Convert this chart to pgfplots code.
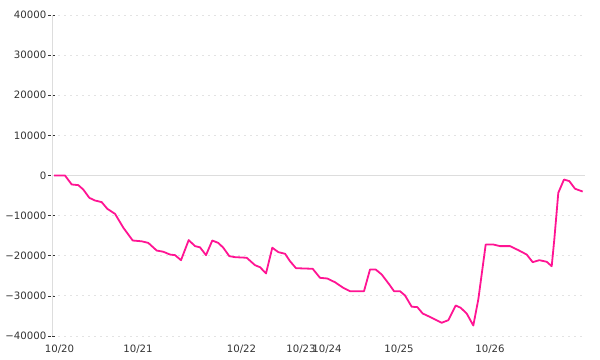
\documentclass[border=0pt]{standalone}
\usepackage{fontspec}
\setmainfont{DejaVu Sans}
\usepackage{pgfplots}
\pgfplotsset{compat=1.18}
\definecolor{linepink}{HTML}{FF1493}
\definecolor{gridc}{HTML}{E3E3E3}
\definecolor{axc}{HTML}{DDDDDD}
\definecolor{txt}{HTML}{333333}
\begin{document}
\begin{tikzpicture}
\useasboundingbox (-52bp,-24bp) rectangle (548bp,336bp);
\begin{axis}[
  scale only axis,
  width=533bp, height=321bp,
  xmin=52, xmax=585,
  ymin=-40000, ymax=40000,
  scaled y ticks=false,
  axis x line*=bottom,
  axis y line*=left,
  x axis line style={draw=none},
  y axis line style={draw=axc, line width=0.8bp, -},
  xtick={59.5,138,241.5,301,327,399,490},
  xticklabels={10/20,10/21,10/22,10/23,10/24,10/25,10/26},
  x tick style={draw=none},
  ytick={-40000,-30000,-20000,-10000,0,10000,20000,30000,40000},
  yticklabels={−40000,−30000,−20000,−10000,0,10000,20000,30000,40000},
  y tick style={draw=txt, line width=0.7bp, dash pattern=on 3bp off 1bp},
  tick align=center,
  major tick length=7bp,
  ymajorgrids,
  major grid style={draw=gridc, line width=0.8bp, dash pattern=on 2bp off 4bp},
  ticklabel style={font=\fontsize{10.2}{11}\selectfont, text=txt},
  yticklabel style={inner sep=0pt, xshift=-2bp},
  xticklabel style={inner sep=0pt, yshift=-5bp},
  clip=false,
]
\addplot[draw=axc, line width=0.8bp, forget plot] coordinates {(52,0) (585,0)};
\addplot[draw=linepink, line width=1.8bp, line join=round] coordinates {
(54,0) (65,0) (71.7,-2240) (78.3,-2400) (83.3,-3500) (89.3,-5560) (95,-6230)
(101.7,-6640) (107.3,-8300) (115,-9550) (123.3,-13000) (132.7,-16200)
(141.7,-16400) (148.3,-16800) (156.7,-18700) (163.3,-19000) (170,-19700)
(175,-19850) (181,-21100) (188.7,-16100) (195,-17600) (200,-17900)
(206,-19850) (212.3,-16200) (218.3,-16800) (223.3,-18000) (229.3,-20100)
(235,-20350) (246.7,-20500) (255,-22350) (260,-22850) (266,-24400)
(272.3,-18000) (278.3,-19100) (285,-19500) (290,-21350) (296,-23100)
(312.7,-23250) (320,-25500) (327.3,-25670) (335,-26600) (343.3,-28000)
(350,-28830) (364,-28830) (370,-23430) (375.7,-23430) (381.7,-24670)
(389.3,-27160) (394,-28830) (400,-28830) (405,-29900) (411.7,-32700)
(417.3,-32800) (422.7,-34400) (431.7,-35450) (441.7,-36700) (448.3,-36060)
(455.7,-32400) (460.7,-32970) (466.7,-34400) (473.3,-37380) (478.3,-30900)
(485.7,-17200) (493.3,-17200) (500,-17600) (510,-17600) (518.3,-18600)
(526.7,-19700) (532.7,-21600) (539.3,-21100) (546.7,-21500) (551.7,-22600)
(554.3,-15950) (558.3,-4300) (564,-1000) (569.3,-1400) (575,-3300)
(582.7,-4000)
};
\end{axis}
\end{tikzpicture}
\end{document}
